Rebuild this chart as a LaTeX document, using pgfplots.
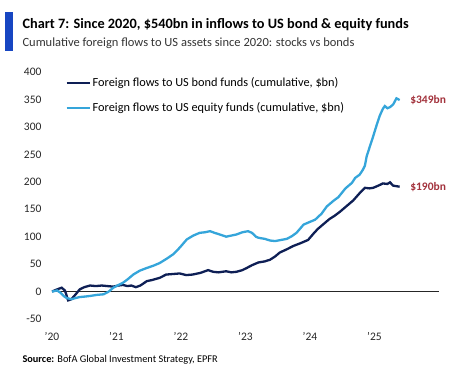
\documentclass[border=0pt]{standalone}
\usepackage{pgfplots}
\pgfplotsset{compat=1.18}
\usepackage{fontspec}
\setmainfont{Carlito}
\definecolor{bondc}{HTML}{0E1F55}
\definecolor{eqc}{HTML}{35A5DA}
\definecolor{lblred}{HTML}{A3333D}
\definecolor{barblue}{HTML}{1746C2}
\begin{document}
\begin{tikzpicture}[x=1pt,y=1pt]
\path[use as bounding box] (0,0) rectangle (454,-369);
\fill[barblue] (5,-12) rectangle (12.5,-51);
\node[anchor=west,font=\fontsize{14.3}{16}\selectfont\bfseries] at (19,-25) {Chart 7: Since 2020, \$540bn in inflows to US bond \& equity funds};
\node[anchor=west,font=\fontsize{12.5}{14}\selectfont,text=black!80] at (19,-43) {Cumulative foreign flows to US assets since 2020: stocks vs bonds};
\node[anchor=west,font=\fontsize{10.3}{12}\selectfont] at (19,-360) {\textbf{Source:} BofA Global Investment Strategy, EPFR};
\begin{axis}[
  at={(52pt,-319pt)}, anchor=south west,
  scale only axis, width=387pt, height=247pt,
  xmin=2020, xmax=2026, ymin=-50, ymax=400,
  axis line style={draw=none}, major tick length=0pt,
  xtick={2020,2021,2022,2023,2024,2025},
  xticklabels={’20,’21,’22,’23,’24,’25},
  ytick={-50,0,50,100,150,200,250,300,350,400},
  yticklabels={-50,0,50,100,150,200,250,300,350,400},
  tick label style={font=\fontsize{11.5}{13}\selectfont, text=black!85},
  xticklabel style={yshift=-10pt},
  yticklabel style={xshift=-7pt},
  clip=false,
  legend style={draw=none, fill=none, at={(rel axis cs:0.035,0.985)}, anchor=north west,
    row sep=10pt, font=\fontsize{12.3}{13}\selectfont, inner sep=0pt},
  legend cell align=left,
  legend image code/.code={\draw[#1, line width=2pt] (0pt,0pt) -- (23pt,0pt);},
]
\addplot[black!85, line width=1pt, forget plot] coordinates {(2020,0) (2026,0)};
\addplot[bondc, line width=2.3pt] coordinates {
(2020.00,0) (2020.08,4) (2020.15,7) (2020.20,2) (2020.25,-16) (2020.30,-14) (2020.36,-6)
(2020.43,4) (2020.50,8) (2020.59,11) (2020.68,10) (2020.77,11) (2020.86,10) (2020.95,9)
(2021.03,11) (2021.10,12) (2021.17,10) (2021.23,11) (2021.30,8) (2021.37,11) (2021.47,19)
(2021.55,21) (2021.67,25) (2021.77,31) (2021.88,32) (2021.98,33) (2022.08,30) (2022.18,31)
(2022.30,34) (2022.42,39) (2022.50,36) (2022.58,35) (2022.70,37) (2022.78,35) (2022.86,36)
(2022.95,39) (2023.02,43) (2023.10,48) (2023.20,53) (2023.30,55) (2023.38,58) (2023.46,64)
(2023.53,71) (2023.64,77) (2023.74,83) (2023.85,88) (2023.97,94) (2024.05,105) (2024.12,114)
(2024.20,122) (2024.30,132) (2024.38,138) (2024.46,145) (2024.56,155) (2024.67,166)
(2024.76,178) (2024.85,189) (2024.92,188) (2024.98,189) (2025.06,193) (2025.13,197)
(2025.20,196) (2025.24,199) (2025.29,193) (2025.34,192) (2025.39,191)};
\addlegendentry{Foreign flows to US bond funds (cumulative, \$bn)}
\addplot[eqc, line width=2.3pt] coordinates {
(2020.00,0) (2020.08,2) (2020.13,-2) (2020.18,-8) (2020.23,-12) (2020.30,-14) (2020.36,-12)
(2020.43,-10) (2020.52,-9) (2020.59,-8) (2020.70,-6) (2020.80,-5) (2020.88,0) (2020.95,7)
(2021.03,12) (2021.10,16) (2021.18,23) (2021.26,31) (2021.36,38) (2021.47,43) (2021.57,47)
(2021.67,52) (2021.78,60) (2021.88,68) (2021.98,80) (2022.09,95) (2022.19,102) (2022.29,107)
(2022.37,108) (2022.45,110) (2022.52,107) (2022.60,104) (2022.70,100) (2022.78,102)
(2022.86,104) (2022.95,108) (2023.04,110) (2023.10,107) (2023.16,100) (2023.20,98)
(2023.30,96) (2023.38,93) (2023.46,92) (2023.55,94) (2023.64,96) (2023.72,101) (2023.79,107)
(2023.85,115) (2023.90,122) (2024.00,127) (2024.08,131) (2024.18,142) (2024.26,155)
(2024.36,165) (2024.44,172) (2024.55,188) (2024.65,198) (2024.70,207) (2024.77,213)
(2024.82,222) (2024.85,229) (2024.88,247) (2024.93,265) (2024.98,283) (2025.03,302)
(2025.08,320) (2025.13,333) (2025.16,338) (2025.20,334) (2025.24,336) (2025.29,341)
(2025.34,352) (2025.39,349)};
\addlegendentry{Foreign flows to US equity funds (cumulative, \$bn)}
\node[anchor=west, text=lblred, font=\fontsize{11.5}{13}\selectfont\bfseries] at (axis cs:2025.5,349) {\$349bn};
\node[anchor=west, text=lblred, font=\fontsize{11.5}{13}\selectfont\bfseries] at (axis cs:2025.5,190) {\$190bn};
\end{axis}
\end{tikzpicture}
\end{document}
